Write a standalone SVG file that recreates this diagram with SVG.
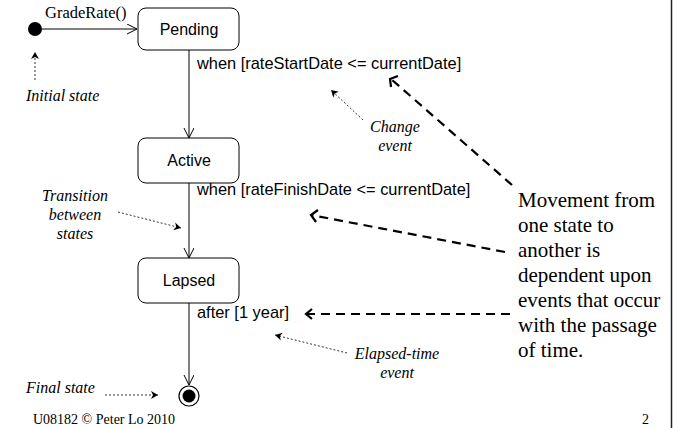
<svg xmlns="http://www.w3.org/2000/svg" width="673" height="428" viewBox="0 0 673 428">
<style>
.state{fill:#fff;stroke:#000;stroke-width:1}
.sname{font-family:"Liberation Sans",Arial,sans-serif;font-size:16px;text-anchor:middle}
.guard{font-family:"Liberation Sans",Arial,sans-serif;font-size:16.4px}
.note{font-family:"Liberation Serif","Times New Roman",serif;font-size:16px;font-style:italic}
.big{font-family:"Liberation Serif","Times New Roman",serif;font-size:21px}
.foot{font-family:"Liberation Serif","Times New Roman",serif;font-size:14px}
.tr{stroke:#000;stroke-width:1;fill:none}
.dot{stroke:#000;stroke-width:0.8;fill:none;stroke-dasharray:2,2}
.dash{stroke:#000;stroke-width:2.2;fill:none;stroke-dasharray:9,6}
.head{fill:none;stroke:#000;stroke-width:2.2}
</style>
<defs>
<marker id="open" markerWidth="12" markerHeight="12" refX="10" refY="5" orient="auto" markerUnits="userSpaceOnUse">
<path d="M0,0 L10,5 L0,10" fill="none" stroke="#000" stroke-width="1"/>
</marker>
<marker id="small" markerWidth="10" markerHeight="10" refX="7" refY="4" orient="auto" markerUnits="userSpaceOnUse">
<path d="M0,0 L7,4 L0,8 L2,4 Z" fill="#000"/>
</marker>
</defs>
<rect width="673" height="428" fill="#fff"/>
<line x1="671.5" y1="0" x2="671.5" y2="428" stroke="#222" stroke-width="1.5"/>

<g id="connectors">
<line class="tr" x1="42" y1="29" x2="137" y2="29" marker-end="url(#open)"/>
<line class="tr" x1="189" y1="50" x2="189" y2="138" marker-end="url(#open)"/>
<line class="tr" x1="189" y1="183" x2="189" y2="258" marker-end="url(#open)"/>
<line class="tr" x1="189" y1="303" x2="189" y2="385" marker-end="url(#open)"/>
<text class="note" x="45" y="18" style="font-style:normal;font-size:16.5px">GradeRate()</text>
<text class="guard" x="197" y="69">when [rateStartDate &lt;= currentDate]</text>
<text class="guard" x="197" y="195">when [rateFinishDate &lt;= currentDate]</text>
<text class="guard" x="197" y="318">after [1 year]</text>
</g>

<g id="initial"><circle cx="35" cy="29" r="7" fill="#000"/></g>
<g id="pending"><rect class="state" x="138" y="8" width="101" height="42" rx="8"/><text class="sname" x="189" y="35">Pending</text></g>
<g id="active"><rect class="state" x="138" y="138" width="101" height="45" rx="8"/><text class="sname" x="189" y="166">Active</text></g>
<g id="lapsed"><rect class="state" x="138" y="258" width="101" height="45" rx="8"/><text class="sname" x="189" y="286">Lapsed</text></g>
<g id="final"><circle cx="189" cy="396" r="10" fill="#fff" stroke="#000" stroke-width="1.2"/><circle cx="189" cy="396" r="6.5" fill="#000"/></g>

<g id="annotations">
<line class="dot" x1="35" y1="80" x2="35" y2="52" marker-end="url(#small)"/>
<text class="note" x="26" y="101">Initial state</text>
<line class="dot" x1="363" y1="120" x2="331" y2="90" marker-end="url(#small)"/>
<text class="note" x="395" y="132" text-anchor="middle">Change</text>
<text class="note" x="395" y="151" text-anchor="middle">event</text>
<line class="dot" x1="118" y1="212" x2="181" y2="228" marker-end="url(#small)"/>
<text class="note" x="75" y="201" text-anchor="middle">Transition</text>
<text class="note" x="75" y="220" text-anchor="middle">between</text>
<text class="note" x="75" y="239" text-anchor="middle">states</text>
<line class="dot" x1="347" y1="353" x2="275" y2="335" marker-end="url(#small)"/>
<text class="note" x="397" y="359" text-anchor="middle">Elapsed-time</text>
<text class="note" x="397" y="378" text-anchor="middle">event</text>
<line class="dot" x1="105" y1="395" x2="158" y2="395" marker-end="url(#small)"/>
<text class="note" x="26" y="393">Final state</text>

<line class="dash" x1="512" y1="185" x2="391" y2="79"/>
<path class="head" d="M398,76 L390,79 L391,87"/>
<line class="dash" x1="505" y1="252" x2="311" y2="215"/>
<path class="head" d="M318,210 L311,215 L316,222"/>
<line class="dash" x1="510" y1="314" x2="306" y2="314"/>
<path class="head" d="M312,309 L306,314 L312,319"/>

<text class="big" x="518" y="207">Movement from</text>
<text class="big" x="518" y="232">one state to</text>
<text class="big" x="518" y="257">another is</text>
<text class="big" x="518" y="282">dependent upon</text>
<text class="big" x="518" y="307">events that occur</text>
<text class="big" x="518" y="332">with the passage</text>
<text class="big" x="518" y="357">of time.</text>

<text class="foot" x="33" y="424">U08182 © Peter Lo 2010</text>
<text class="foot" x="642" y="424">2</text>
</g>
</svg>
